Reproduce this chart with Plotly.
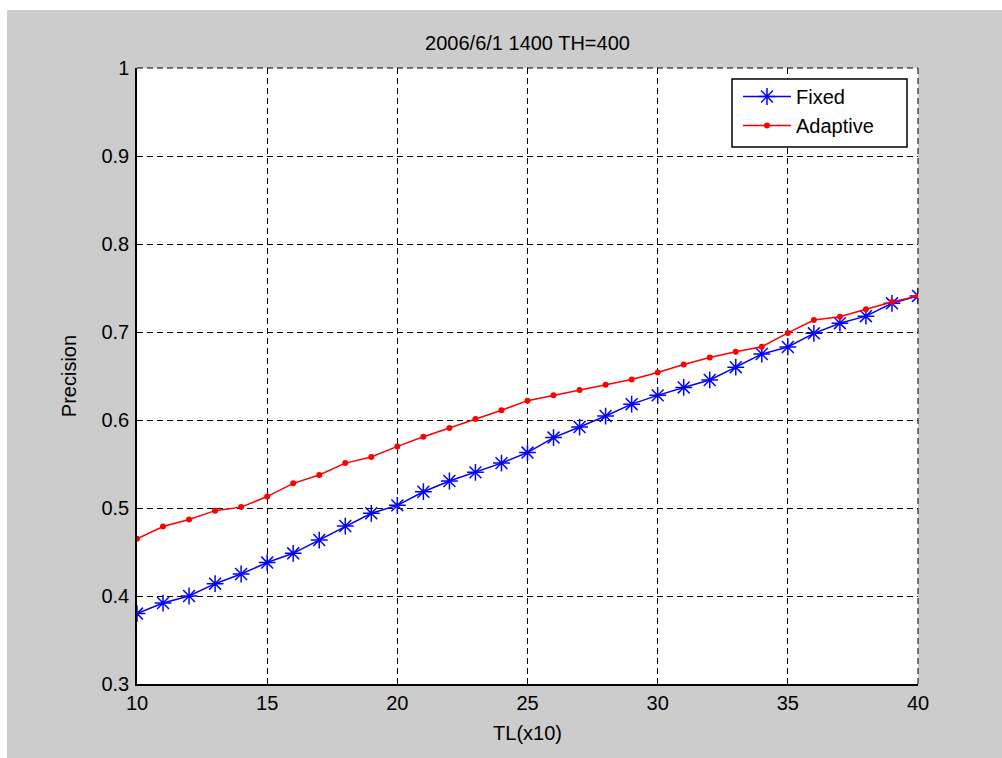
import plotly.graph_objects as go

tl = list(range(10, 41))
fixed = [0.380, 0.392, 0.400, 0.414, 0.425, 0.438, 0.4485, 0.4636, 0.4795, 0.494,
         0.503, 0.5185, 0.5307, 0.5405, 0.551, 0.563, 0.580, 0.592, 0.6045, 0.618,
         0.628, 0.637, 0.6455, 0.660, 0.675, 0.683, 0.6985, 0.710, 0.718, 0.7326, 0.741]
adaptive = [0.465, 0.479, 0.487, 0.497, 0.501, 0.513, 0.528, 0.5375, 0.551, 0.558,
            0.570, 0.581, 0.591, 0.601, 0.611, 0.622, 0.628, 0.634, 0.640, 0.646,
            0.654, 0.663, 0.671, 0.6776, 0.6833, 0.699, 0.7136, 0.7174, 0.7258, 0.734, 0.741]

title_text = "2006/6/1 1400 TH=400"
x_label = "TL(x10)"
y_label = "Precision"

FONT = "Liberation Sans, Arial, sans-serif"
FS = 20

fig = go.Figure()
fig.add_trace(go.Scatter(
    x=tl, y=fixed, name="Fixed", mode="lines+markers",
    line=dict(color="#0000ff", width=1.5),
    marker=dict(symbol="asterisk-open", size=14, color="#0000ff",
                line=dict(color="#0000ff", width=1.5)),
))
fig.add_trace(go.Scatter(
    x=tl, y=adaptive, name="Adaptive", mode="lines+markers",
    line=dict(color="#ff0000", width=1.5),
    marker=dict(symbol="circle", size=6, color="#ff0000"),
))

W, H = 1002, 758
L, R, T, B = 137, 84, 68, 74
pw, ph = W - L - R, H - T - B


def px_x(p):
    return (p - L) / pw


def px_y(p):
    return (H - B - p) / ph


# thin white strips at top/left like the reference screenshot
fig.add_shape(type="rect", xref="paper", yref="paper",
              x0=px_x(-5), x1=px_x(W + 5), y0=px_y(10), y1=px_y(-5),
              fillcolor="white", line=dict(width=0), layer="below")
fig.add_shape(type="rect", xref="paper", yref="paper",
              x0=px_x(-5), x1=px_x(7), y0=px_y(H + 5), y1=px_y(-5),
              fillcolor="white", line=dict(width=0), layer="below")
# dashed top and right box edges
fig.add_shape(type="line", xref="paper", yref="paper", x0=0, x1=1, y0=1, y1=1,
              line=dict(color="black", width=1, dash="6px,4px"), layer="above")
fig.add_shape(type="line", xref="paper", yref="paper", x0=1, x1=1, y0=0, y1=1,
              line=dict(color="black", width=1, dash="6px,4px"), layer="above")
# legend frame
fig.add_shape(type="rect", xref="paper", yref="paper",
              x0=px_x(732), x1=px_x(907), y0=px_y(147), y1=px_y(79),
              fillcolor="white", line=dict(color="black", width=1.5), layer="above")

axis_common = dict(
    showline=True, linecolor="black", linewidth=1.5,
    ticks="inside", ticklen=6, tickcolor="black",
    showgrid=True, gridcolor="black", gridwidth=1, griddash="6px,4px",
    zeroline=False,
    tickfont=dict(family=FONT, size=FS, color="black"),
)

fig.update_layout(
    width=W, height=H, autosize=False,
    margin=dict(l=L, r=R, t=T, b=B, pad=0),
    paper_bgcolor="#cccccc", plot_bgcolor="white",
    title=dict(text=title_text, x=(L + pw / 2) / W, xanchor="center",
               y=1 - 43 / H, yanchor="middle",
               font=dict(family=FONT, size=FS, color="black")),
    xaxis=dict(range=[10, 40], dtick=5, tick0=10,
               title=dict(text=x_label, font=dict(family=FONT, size=FS, color="black"), standoff=13),
               **axis_common),
    yaxis=dict(range=[0.3, 1], dtick=0.1, tick0=0.3, ticklabelstandoff=2,
               title=dict(text=y_label, font=dict(family=FONT, size=FS, color="black"), standoff=19),
               **axis_common),
    xaxis2=dict(overlaying="x", matches="x", side="top", anchor="y",
                showticklabels=False, ticks="inside", ticklen=6, tickcolor="black",
                showgrid=False, showline=False, zeroline=False, dtick=5, tick0=10, range=[10, 40]),
    yaxis2=dict(overlaying="y", matches="y", side="right", anchor="x",
                showticklabels=False, ticks="inside", ticklen=6, tickcolor="black",
                showgrid=False, showline=False, zeroline=False, dtick=0.1, tick0=0.3, range=[0.3, 1]),
    legend=dict(x=px_x(738), y=px_y(77), xanchor="left", yanchor="top",
                bgcolor="rgba(0,0,0,0)", borderwidth=0,
                font=dict(family=FONT, size=20, color="black"),
                itemwidth=48),
    showlegend=True,
)

fig.write_html("out.html")
